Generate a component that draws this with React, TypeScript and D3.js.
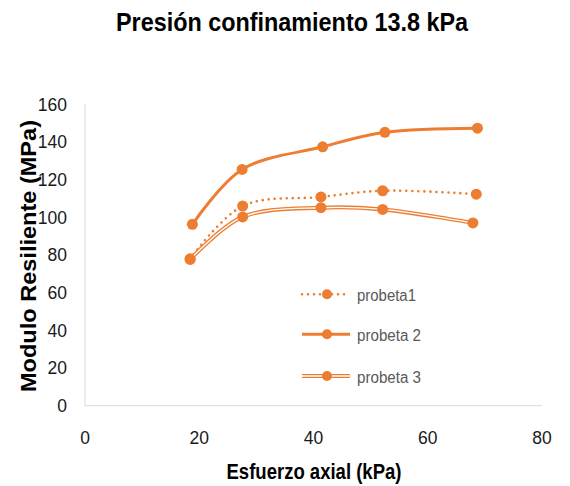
import React from 'react';
import * as d3 from 'd3';

// Esfuerzo axial (kPa) / Modulo resiliente (MPa)
const probeta1X = [18.4, 27.6, 41.3, 52.1, 68.5];
const probeta1Y = [77.9, 105.9, 110.7, 114.0, 112.2];
const probeta2X = [18.8, 27.5, 41.6, 52.5, 68.7];
const probeta2Y = [96.2, 125.3, 137.3, 145.0, 147.2];
const probeta3X = [18.4, 27.6, 41.3, 52.1, 67.9];
const probeta3Y = [77.6, 100.1, 105.0, 104.1, 96.9];

const seriesNames = ['probeta1', 'probeta 2', 'probeta 3'];
const xTicks = [0, 20, 40, 60, 80];
const yTicks = [0, 20, 40, 60, 80, 100, 120, 140, 160];

const title = 'Presión confinamiento 13.8 kPa';
const xTitle = 'Esfuerzo axial (kPa)';
const yTitle = 'Modulo Resiliente (MPa)';

const ORANGE = '#ED7D31';
const FONT = '"Liberation Sans", Arial, sans-serif';

type Pt = { x: number; y: number };

const zip = (xs: number[], ys: number[]): Pt[] => xs.map((x, i) => ({ x, y: ys[i] }));

const App = () => {
    const width = 570;
    const height = 486;

    // Set up scales
    const xScale = d3.scaleLinear().domain([0, 80]).range([85, 542]);
    const yScale = d3.scaleLinear().domain([0, 160]).range([405.7, 104]);

    const line = d3
        .line<Pt>()
        .x((d) => xScale(d.x))
        .y((d) => yScale(d.y))
        .curve(d3.curveCatmullRom.alpha(0.5));

    const series = [
        { name: seriesNames[0], data: zip(probeta1X, probeta1Y), kind: 'dot' },
        { name: seriesNames[1], data: zip(probeta2X, probeta2Y), kind: 'solid' },
        { name: seriesNames[2], data: zip(probeta3X, probeta3Y), kind: 'double' },
    ];

    const drawLine = (d: string, kind: string, key: string) => {
        if (kind === 'dot') {
            return (
                <path key={key} d={d} fill="none" stroke={ORANGE} strokeWidth={2.6}
                    strokeDasharray="0 6" strokeLinecap="round" />
            );
        }
        if (kind === 'solid') {
            return <path key={key} d={d} fill="none" stroke={ORANGE} strokeWidth={3} />;
        }
        return (
            <g key={key}>
                <path d={d} fill="none" stroke={ORANGE} strokeWidth={4} />
                <path d={d} fill="none" stroke="#fff" strokeWidth={1.4} />
            </g>
        );
    };

    const legendRows = [294.3, 334.3, 376];

    return (
        <svg width={width} height={height} style={{ position: 'absolute', left: 0, top: 0 }}
            fontFamily={FONT}>
            <rect width={width} height={height} fill="#fff" />

            {/* title */}
            <text x={292} y={31} textAnchor="middle" fontSize={26} fontWeight="bold" fill="#000"
                textLength={352} lengthAdjust="spacingAndGlyphs">{title}</text>

            {/* axes */}
            <line x1={xScale(0)} x2={xScale(80)} y1={yScale(0)} y2={yScale(0)} stroke="#D9D9D9" strokeWidth={1} />
            <line x1={xScale(0)} x2={xScale(0)} y1={yScale(0)} y2={yScale(160)} stroke="#D9D9D9" strokeWidth={1} />

            {yTicks.map((t) => (
                <text key={'y' + t} x={67} y={yScale(t) + 6.5} textAnchor="end" fontSize={17.5} fill="#1a1a1a">{t}</text>
            ))}
            {xTicks.map((t) => (
                <text key={'x' + t} x={xScale(t)} y={444} textAnchor="middle" fontSize={17.5} fill="#1a1a1a">{t}</text>
            ))}

            <text x={314} y={479} textAnchor="middle" fontSize={22} fontWeight="bold" fill="#000"
                textLength={175} lengthAdjust="spacingAndGlyphs">{xTitle}</text>
            <text transform="translate(36,256) rotate(-90)" textAnchor="middle" fontSize={22} fontWeight="bold"
                fill="#000" textLength={272} lengthAdjust="spacingAndGlyphs">{yTitle}</text>

            {/* lines + markers */}
            {series.map((s) => (
                <g key={s.name}>
                    {drawLine(line(s.data) || '', s.kind, 'l')}
                    {s.data.map((p, i) => (
                        <circle key={i} cx={xScale(p.x)} cy={yScale(p.y)} r={5.5} fill={ORANGE} />
                    ))}
                </g>
            ))}

            {/* legend */}
            {series.map((s, i) => (
                <g key={'leg' + i}>
                    {drawLine(`M302,${legendRows[i]}L350,${legendRows[i]}`, s.kind, 'll')}
                    <circle cx={327} cy={legendRows[i]} r={5} fill={ORANGE} />
                    <text x={357} y={legendRows[i] + 7} fontSize={16} fill="#595959"
                        textLength={i === 0 ? 59 : 64} lengthAdjust="spacingAndGlyphs">{s.name}</text>
                </g>
            ))}
        </svg>
    );
};

export default App;
